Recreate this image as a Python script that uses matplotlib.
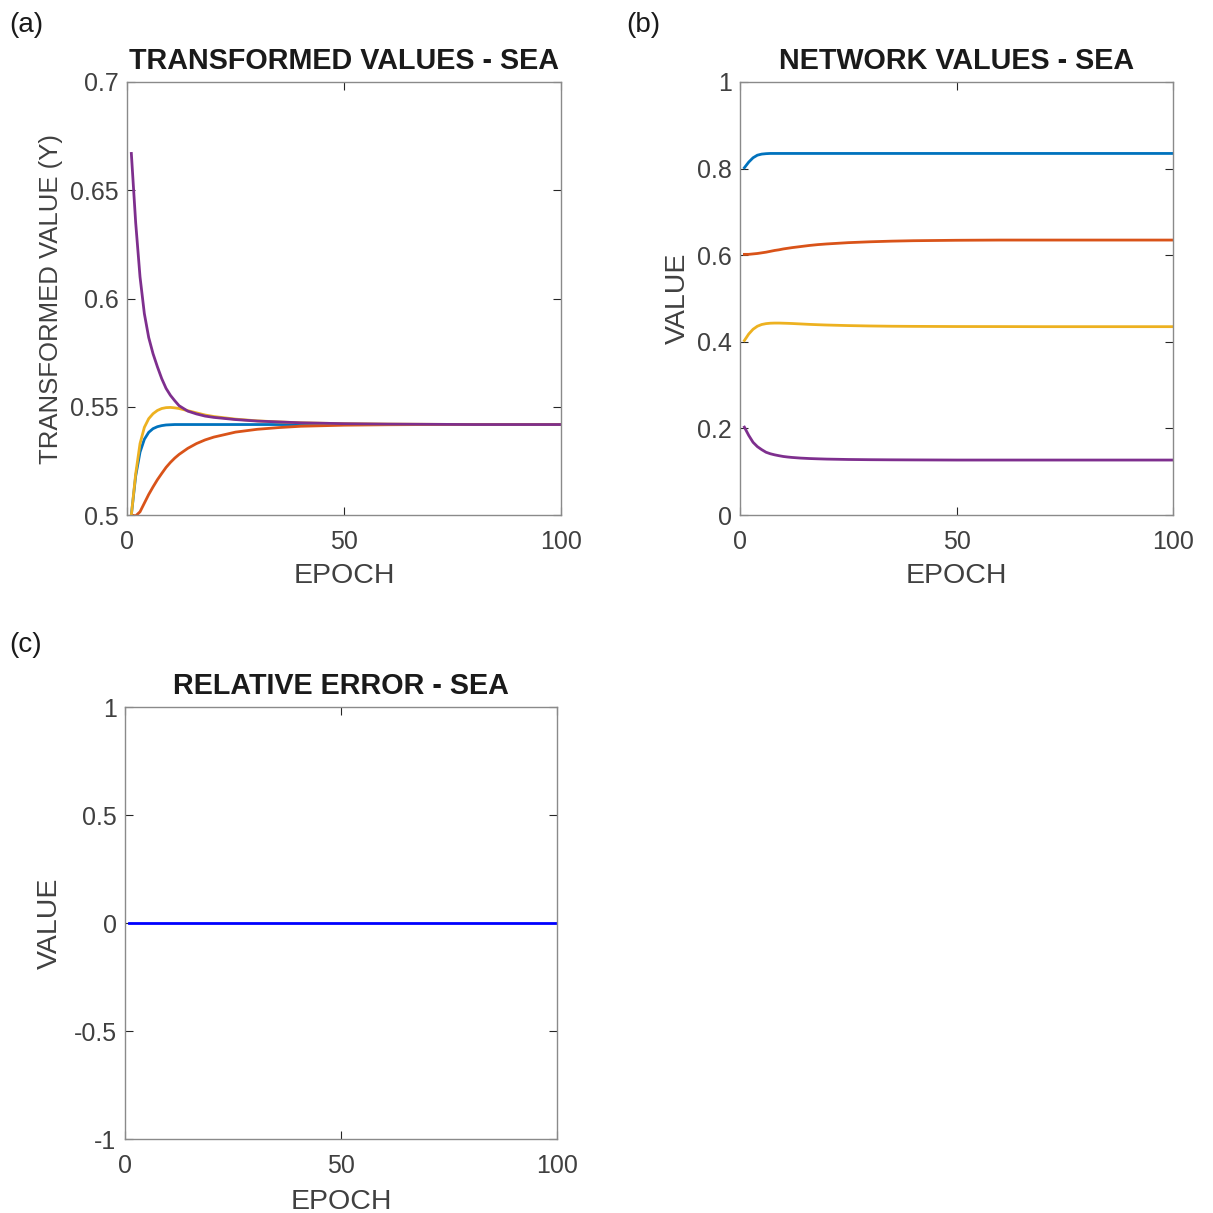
import matplotlib
matplotlib.use("Agg")
import matplotlib.pyplot as plt

plt.rcParams['font.family'] = ['Liberation Sans', 'DejaVu Sans']

epoch = [1, 2, 3, 4, 5, 6, 7, 8, 9, 10, 11, 12, 14, 16, 18, 20, 25, 30, 35, 40, 50, 60, 70, 80, 100]

# (a) transformed values
ta_blue = [0.5, 0.518, 0.529, 0.535, 0.5382, 0.5399, 0.5408, 0.5413, 0.5416, 0.5417, 0.5418, 0.5418,
           0.5418, 0.5418, 0.5418, 0.5418, 0.5418, 0.5418, 0.5418, 0.5418, 0.5418, 0.5418, 0.5418,
           0.5418, 0.5418]
ta_orange = [0.5, 0.4996, 0.5015, 0.5055, 0.5095, 0.513, 0.5163, 0.5192, 0.522, 0.5243, 0.5263, 0.528,
             0.5308, 0.533, 0.5347, 0.536, 0.5383, 0.5396, 0.5404, 0.541, 0.5415, 0.5417, 0.5418,
             0.5418, 0.5418]
ta_yellow = [0.5, 0.519, 0.533, 0.5405, 0.5445, 0.5468, 0.5483, 0.5492, 0.5496, 0.5497, 0.5495, 0.5492,
             0.5482, 0.5472, 0.5462, 0.5455, 0.5443, 0.5435, 0.543, 0.5426, 0.5422, 0.542, 0.5419,
             0.5418, 0.5418]
ta_purple = [0.667, 0.635, 0.610, 0.593, 0.582, 0.5745, 0.5685, 0.563, 0.5585, 0.5553, 0.5528, 0.5505,
             0.548, 0.5467, 0.5457, 0.5451, 0.5441, 0.5434, 0.543, 0.5426, 0.5422, 0.542, 0.5419,
             0.5418, 0.5418]

# (b) network values
nv_blue = [0.802, 0.815, 0.825, 0.831, 0.8335, 0.8345, 0.835, 0.835, 0.835, 0.835, 0.835, 0.835,
           0.835, 0.835, 0.835, 0.835, 0.835, 0.835, 0.835, 0.835, 0.835, 0.835, 0.835, 0.835, 0.835]
nv_orange = [0.602, 0.602, 0.603, 0.604, 0.6055, 0.607, 0.609, 0.611, 0.6125, 0.6145, 0.616, 0.6175,
             0.62, 0.6225, 0.6245, 0.626, 0.629, 0.631, 0.6325, 0.6335, 0.6345, 0.635, 0.635, 0.635,
             0.635]
nv_yellow = [0.403, 0.418, 0.429, 0.436, 0.44, 0.442, 0.443, 0.4433, 0.4433, 0.443, 0.4427, 0.4423,
             0.4413, 0.4403, 0.4395, 0.4388, 0.4375, 0.4366, 0.436, 0.4357, 0.4353, 0.4352, 0.435,
             0.435, 0.435]
nv_purple = [0.203, 0.184, 0.168, 0.158, 0.151, 0.145, 0.1415, 0.139, 0.137, 0.1352, 0.134, 0.133,
             0.1315, 0.1305, 0.1298, 0.1292, 0.1283, 0.1278, 0.1275, 0.1273, 0.127, 0.127, 0.127,
             0.127, 0.127]

# (c) relative error
err_epoch = [1, 100]
rel_err = [0, 0]

colors = ['#0072BD', '#D95319', '#EDB120', '#7E2F8E']
tick_c = '#404040'
fs = 18
lab_fs = 20.5
title_fs = 20.7

fig = plt.figure(figsize=(12.13, 12.13), dpi=100)


def style(ax, yticks, ylabels, ylim):
    ax.set_xlim(0, 100)
    ax.set_ylim(*ylim)
    ax.set_xticks([0, 50, 100])
    ax.set_xticklabels(['0', '50', '100'])
    ax.set_yticks(yticks)
    ax.set_yticklabels(ylabels)
    ax.tick_params(direction='in', length=6, width=0.8, top=True, right=True,
                   labelsize=fs, colors='#262626', labelcolor=tick_c)
    ax.tick_params(axis='x', pad=11)
    ax.tick_params(axis='y', pad=6)
    for s in ax.spines.values():
        s.set_color('#8a8a8a')
        s.set_linewidth(1.0)
    ax.set_xlabel('EPOCH', fontsize=lab_fs, color=tick_c)


ax1 = fig.add_axes([0.1047, 0.5754, 0.3578, 0.357])
for ys, c in zip([ta_blue, ta_orange, ta_yellow, ta_purple], colors):
    ax1.plot(epoch, ys, color=c, lw=2.0)
style(ax1, [0.5, 0.55, 0.6, 0.65, 0.7], ['0.5', '0.55', '0.6', '0.65', '0.7'], (0.5, 0.7))
ax1.set_ylabel('TRANSFORMED VALUE (Y)', fontsize=18.5, color=tick_c)
ax1.yaxis.set_label_coords(-0.148, 0.5)
ax1.xaxis.set_label_coords(0.5, -0.11)
ax1.set_title('TRANSFORMED VALUES - SEA', fontsize=title_fs, fontweight='bold', color='#1a1a1a', pad=9.5)

ax2 = fig.add_axes([0.6101, 0.5754, 0.3569, 0.357])
for ys, c in zip([nv_blue, nv_orange, nv_yellow, nv_purple], colors):
    ax2.plot(epoch, ys, color=c, lw=2.0)
style(ax2, [0, 0.2, 0.4, 0.6, 0.8, 1], ['0', '0.2', '0.4', '0.6', '0.8', '1'], (0, 1))
ax2.set_ylabel('VALUE', fontsize=lab_fs, color=tick_c)
ax2.yaxis.set_label_coords(-0.113, 0.5)
ax2.xaxis.set_label_coords(0.5, -0.11)
ax2.set_title('NETWORK VALUES - SEA', fontsize=title_fs, fontweight='bold', color='#1a1a1a', pad=9.5)

ax3 = fig.add_axes([0.1030, 0.0610, 0.3562, 0.3561])
ax3.plot(err_epoch, rel_err, color='#0000FF', lw=2.0)
style(ax3, [-1, -0.5, 0, 0.5, 1], ['-1', '-0.5', '0', '0.5', '1'], (-1, 1))
ax3.set_ylabel('VALUE', fontsize=lab_fs, color=tick_c)
ax3.yaxis.set_label_coords(-0.1435, 0.5)
ax3.xaxis.set_label_coords(0.5, -0.115)
ax3.set_title('RELATIVE ERROR - SEA', fontsize=title_fs, fontweight='bold', color='#1a1a1a', pad=9.5)

fig.text(0.008, 0.979, '(a)', fontsize=20, color='#1a1a1a', va='center')
fig.text(0.516, 0.979, '(b)', fontsize=20, color='#1a1a1a', va='center')
fig.text(0.008, 0.468, '(c)', fontsize=20, color='#1a1a1a', va='center')

fig.savefig('out.png', dpi=100)
